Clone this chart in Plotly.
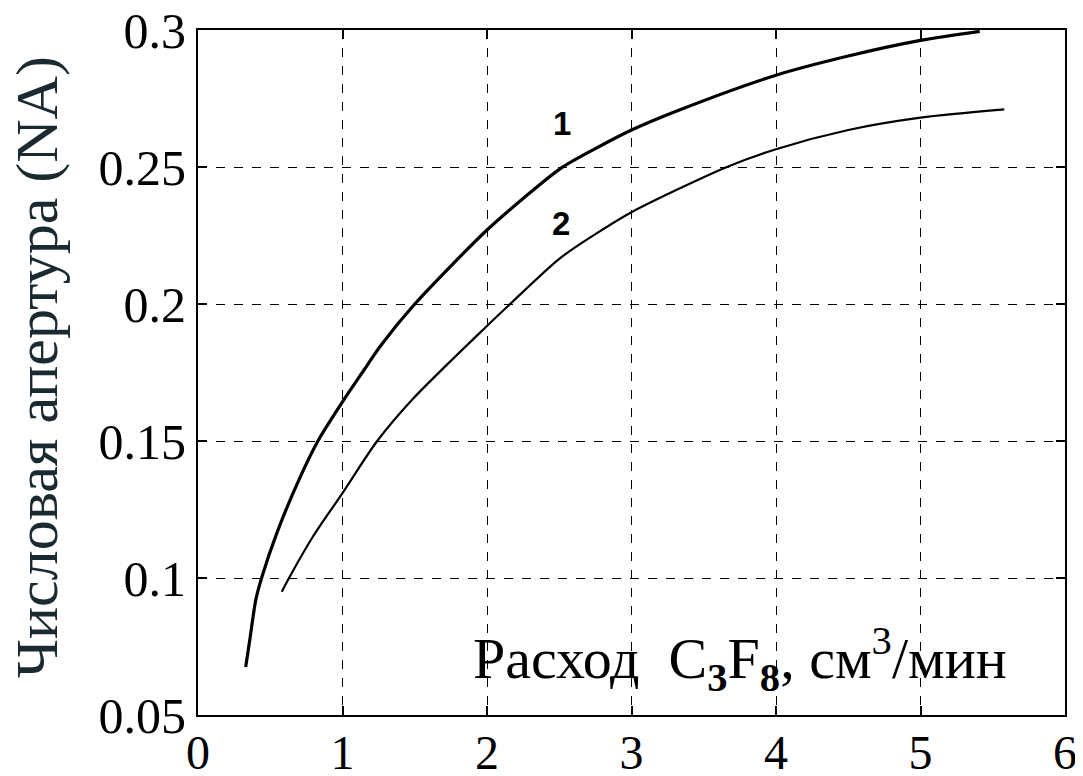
import plotly.graph_objects as go

# Curve 1
x1 = [0.33, 0.36, 0.40, 0.44, 0.55, 0.70, 0.83, 1.00, 1.15, 1.26, 1.50, 2.00, 2.25, 2.51, 2.75, 3.00, 3.34, 4.00, 4.50, 5.00, 5.41]
y1 = [0.0675, 0.078, 0.092, 0.100, 0.117, 0.136, 0.150, 0.1643, 0.176, 0.1845, 0.200, 0.227, 0.2385, 0.2495, 0.2567, 0.2635, 0.271, 0.2835, 0.2905, 0.2962, 0.2995]
# Curve 2
x2 = [0.58, 0.63, 0.80, 1.00, 1.24, 1.48, 2.00, 2.14, 2.50, 2.75, 3.00, 3.66, 4.00, 4.50, 5.00, 5.58]
y2 = [0.095, 0.100, 0.1155, 0.131, 0.150, 0.165, 0.192, 0.199, 0.2165, 0.2255, 0.2335, 0.250, 0.2565, 0.2635, 0.268, 0.271]

x_ticks = [0, 1, 2, 3, 4, 5, 6]
y_ticks = [0.05, 0.1, 0.15, 0.2, 0.25, 0.3]
y_tick_text = ["0.05", "0.1", "0.15", "0.2", "0.25", "0.3"]

curve_labels = ["1", "2"]
curve_label_x = [2.52, 2.51]
curve_label_y = [0.266, 0.2295]

x_title = "Расход  C<sub><b>3</b></sub>F<sub><b>8</b></sub>, см<sup>3</sup>/мин"
y_title = "Числовая апертура (NA)"

fig = go.Figure()
fig.add_trace(go.Scatter(x=x1, y=y1, mode="lines",
                         line=dict(color="black", width=3.2, shape="spline", smoothing=0.8), showlegend=False))
fig.add_trace(go.Scatter(x=x2, y=y2, mode="lines",
                         line=dict(color="black", width=2.2, shape="spline", smoothing=0.8), showlegend=False))

for t, xx, yy in zip(curve_labels, curve_label_x, curve_label_y):
    fig.add_annotation(x=xx, y=yy, text="<b>" + t + "</b>", showarrow=False,
                       font=dict(family="Liberation Sans", size=33, color="black"))

fig.add_annotation(x=5.61, y=0.0705, xanchor="right", yanchor="middle", text=x_title, showarrow=False,
                   font=dict(family="Liberation Serif", size=58, color="black"))

fig.add_annotation(x=0, y=0.508, xref="paper", yref="paper", xanchor="center", yanchor="middle",
                   xshift=-161, textangle=-90, text=y_title, showarrow=False,
                   font=dict(family="Liberation Serif", size=60, color="#1a2a30"))

axis_common = dict(showline=True, linecolor="black", linewidth=2, mirror="ticks",
                   ticks="inside", ticklen=9, tickwidth=1.5, tickcolor="black",
                   showgrid=True, gridcolor="black", gridwidth=1.3, griddash="dash",
                   zeroline=False, automargin=False, ticklabeloverflow="allow")

fig.update_xaxes(range=[0, 6], tickvals=x_ticks, ticklabelstandoff=-6,
                 tickfont=dict(family="Liberation Serif", size=48, color="black"), **axis_common)
fig.update_yaxes(range=[0.05, 0.3], tickvals=y_ticks, ticktext=y_tick_text,
                 tickfont=dict(family="Liberation Serif", size=50, color="black"), **axis_common)

fig.update_layout(width=1083, height=776, plot_bgcolor="white", paper_bgcolor="white",
                  margin=dict(l=190, r=26, t=22, b=69))

fig.write_html("out.html")
